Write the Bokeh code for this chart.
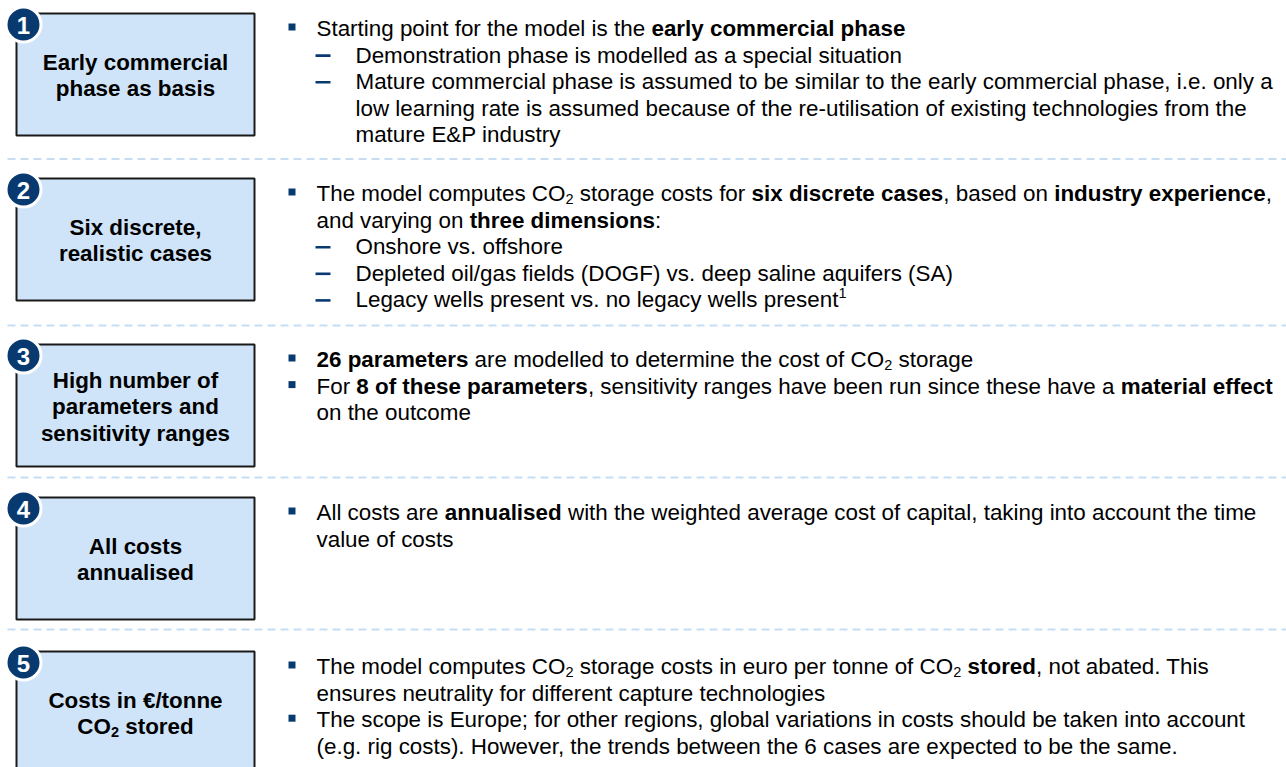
import re
from bokeh.plotting import figure
from bokeh.models import ColumnDataSource, Range1d
from bokeh.embed import file_html
from bokeh.resources import INLINE
from bokeh.core.properties import value

# ---------------- content ----------------
step_numbers = ["1", "2", "3", "4", "5"]

box_labels = [
    ["Early commercial", "phase as basis"],
    ["Six discrete,", "realistic cases"],
    ["High number of", "parameters and", "sensitivity ranges"],
    ["All costs", "annualised"],
    ["Costs in €/tonne", "CO_{2} stored"],
]

# kinds: bullet / cont (bullet continuation) / dash / dcont (dash continuation)
block1 = [
    ("bullet", "Starting point for the model is the **early commercial phase**"),
    ("dash", "Demonstration phase is modelled as a special situation"),
    ("dash", "Mature commercial phase is assumed to be similar to the early commercial phase, i.e. only a"),
    ("dcont", "low learning rate is assumed because of the re-utilisation of existing technologies from the"),
    ("dcont", "mature E&P industry"),
]
block2 = [
    ("bullet", "The model computes CO_{2} storage costs for **six discrete cases**, based on **industry experience**,"),
    ("cont", "and varying on **three dimensions**:"),
    ("dash", "Onshore vs. offshore"),
    ("dash", "Depleted oil/gas fields (DOGF) vs. deep saline aquifers (SA)"),
    ("dash", "Legacy wells present vs. no legacy wells present^{1}"),
]
block3 = [
    ("bullet", "**26 parameters** are modelled to determine the cost of CO_{2} storage"),
    ("bullet", "For **8 of these parameters**, sensitivity ranges have been run since these have a **material effect**"),
    ("cont", "on the outcome"),
]
block4 = [
    ("bullet", "All costs are **annualised** with the weighted average cost of capital, taking into account the time"),
    ("cont", "value of costs"),
]
block5 = [
    ("bullet", "The model computes CO_{2} storage costs in euro per tonne of CO_{2} **stored**, not abated. This"),
    ("cont", "ensures neutrality for different capture technologies"),
    ("bullet", "The scope is Europe; for other regions, global variations in costs should be taken into account"),
    ("cont", "(e.g. rig costs). However, the trends between the 6 cases are expected to be the same."),
]
blocks = [block1, block2, block3, block4, block5]

# ---------------- layout / style ----------------
W, H = 1286, 767
FONT = "Liberation Sans"
FS = 22.4
SUB_FS = 14.5
LINE = 26.6
TEXT_SHIFT = -8.0          # renderer places alphabetic text ~8px low
BOX_L, BOX_R, BOX_H = 16, 254, 122
box_tops = [13, 178, 344, 497, 651]
sep_y = [158.5, 325, 477, 629]
NAVY = "#083A70"
BOX_FILL = "#CFE4F8"
SEP_COLOR = "#C6DDF4"

# Arial / Helvetica advance widths (1/1000 em)
def _tab(chars, widths):
    return dict(zip(chars, widths))

REG = {}
BOLD = {}
REG.update(_tab(" !\"#$%&'()*+,-./", [278, 278, 355, 556, 556, 889, 667, 191, 333, 333, 389, 584, 278, 333, 278, 278]))
BOLD.update(_tab(" !\"#$%&'()*+,-./", [278, 333, 474, 556, 556, 889, 722, 238, 333, 333, 389, 584, 278, 333, 278, 278]))
for d in "0123456789":
    REG[d] = 556
    BOLD[d] = 556
REG.update(_tab(":;<=>?@", [278, 278, 584, 584, 584, 556, 1015]))
BOLD.update(_tab(":;<=>?@", [333, 333, 584, 584, 584, 611, 975]))
UP = "ABCDEFGHIJKLMNOPQRSTUVWXYZ"
REG.update(_tab(UP, [667, 667, 722, 722, 667, 611, 778, 722, 278, 500, 667, 556, 833, 722, 778, 667, 778, 722, 667, 611, 722, 667, 944, 667, 667, 611]))
BOLD.update(_tab(UP, [722, 722, 722, 722, 667, 611, 778, 722, 278, 556, 722, 611, 833, 722, 778, 667, 778, 722, 667, 611, 722, 667, 944, 667, 667, 611]))
LO = "abcdefghijklmnopqrstuvwxyz"
REG.update(_tab(LO, [556, 556, 500, 556, 556, 278, 556, 556, 222, 222, 500, 222, 833, 556, 556, 556, 556, 333, 500, 278, 556, 500, 722, 500, 500, 500]))
BOLD.update(_tab(LO, [556, 611, 556, 611, 556, 333, 611, 611, 278, 278, 556, 278, 889, 611, 611, 611, 611, 389, 556, 333, 611, 556, 778, 556, 556, 500]))
REG["€"] = 556
BOLD["€"] = 556


def text_width(s, bold, size):
    tab = BOLD if bold else REG
    return sum(tab.get(c, 556) for c in s) * size / 1000.0


TOKEN = re.compile(r"(\*\*.*?\*\*|_\{.*?\}|\^\{.*?\})")


def parse(line, base_bold=False):
    runs = []
    for part in TOKEN.split(line):
        if not part:
            continue
        if part.startswith("**"):
            runs.append((part[2:-2], True, "n"))
        elif part.startswith("_{"):
            runs.append((part[2:-1], base_bold, "sub"))
        elif part.startswith("^{"):
            runs.append((part[2:-1], base_bold, "sup"))
        else:
            runs.append((part, base_bold, "n"))
    return runs


def layout_runs(runs):
    out = []
    x = 0.0
    for txt, bold, kind in runs:
        size = FS if kind == "n" else SUB_FS
        dy = 0.0
        if kind == "sub":
            dy = 5.5
        elif kind == "sup":
            dy = -7.0
        stripped = txt.lstrip(" ")
        lead = len(txt) - len(stripped)
        lead_w = text_width(" " * lead, bold, size)
        if stripped:
            out.append((x + lead_w, dy, stripped, size, bold))
        x += text_width(txt, bold, size)
    return out, x


tx, ty, tt, tsize, tstyle = [], [], [], [], []


def emit(x0, y0, runs):
    items, w = layout_runs(runs)
    for dx, dy, s, size, bold in items:
        tx.append(x0 + dx)
        ty.append(y0 + dy + TEXT_SHIFT)
        tt.append(s)
        tsize.append("%.1fpx" % size)
        tstyle.append("bold" if bold else "normal")
    return w


p = figure(width=W, height=H, x_range=Range1d(0, W), y_range=Range1d(H, 0),
           output_backend="svg", toolbar_location=None, min_border=0,
           x_axis_type=None, y_axis_type=None)
p.grid.visible = False
p.outline_line_color = None
p.background_fill_color = "white"
p.border_fill_color = "white"

# separators
p.segment(x0=[7] * len(sep_y), x1=[W] * len(sep_y), y0=sep_y, y1=sep_y,
          line_color=SEP_COLOR, line_width=2, line_dash="8 5")

# boxes
p.quad(left=[BOX_L] * 5, right=[BOX_R] * 5, top=box_tops,
       bottom=[t + BOX_H for t in box_tops],
       fill_color=BOX_FILL, line_color="#1A1A1A", line_width=2)

# numbered circles
cy = [t + 11 for t in box_tops]
p.circle(x=[23] * 5, y=cy, radius=17.5, fill_color=NAVY, line_color="white", line_width=3)
p.text(x=[23] * 5, y=[c + 1 for c in cy], text=step_numbers, text_color="white",
       text_font=value(FONT), text_font_style="bold", text_font_size=value("24px"),
       text_align="center", text_baseline="middle")

# box labels
for b, lines in enumerate(box_labels):
    c = box_tops[b] + BOX_H / 2.0
    n = len(lines)
    for i, ln in enumerate(lines):
        base = c + 9 + (i - (n - 1) / 2.0) * 26.5
        runs = parse(ln, base_bold=True)
        _, w = layout_runs(runs)
        emit((BOX_L + BOX_R) / 2.0 - w / 2.0, base, runs)

# bullet text
bx, by, dx_, dy_ = [], [], [], []
for b, blk in enumerate(blocks):
    for i, (kind, ln) in enumerate(blk):
        base = box_tops[b] + 23 + i * LINE
        x0 = 316 if kind in ("bullet", "cont") else 355
        if kind == "bullet":
            bx.append(291.5)
            by.append(base - 9.5)
        elif kind == "dash":
            dx_.append(322.5)
            dy_.append(base - 7.5)
        emit(x0, base, parse(ln))

p.rect(x=bx, y=by, width=7, height=7, fill_color=NAVY, line_color=None)
p.rect(x=dx_, y=dy_, width=15, height=2.6, fill_color=NAVY, line_color=None)

src = ColumnDataSource(dict(x=tx, y=ty, text=tt, size=tsize, style=tstyle))
p.text(x="x", y="y", text="text", source=src, text_font=value(FONT),
       text_font_size="size", text_font_style="style", text_color="#000000",
       text_align="left", text_baseline="alphabetic")

open("out.html", "w").write(file_html(p, INLINE))
